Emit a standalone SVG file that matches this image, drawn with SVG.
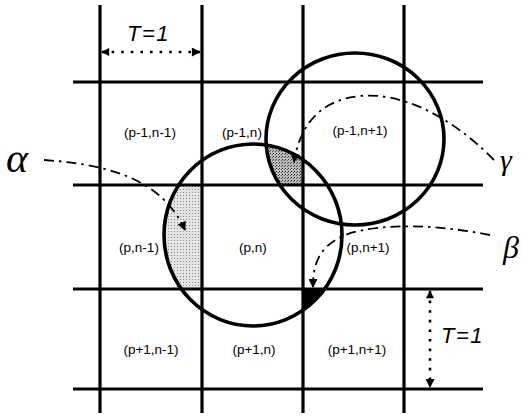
<svg xmlns="http://www.w3.org/2000/svg" width="523" height="417" viewBox="0 0 523 417">
<style>
.grid{stroke:#000;stroke-width:3.2;fill:none}
.circ{stroke:#000;stroke-width:3.6;fill:none}
.lbl{font-family:"Liberation Sans",Arial,sans-serif;font-size:13.5px;fill:#000;text-anchor:middle}
.t1{font-family:"Liberation Sans",Arial,sans-serif;font-size:22px;font-style:italic;letter-spacing:1.5px;fill:#000}
.greek{font-family:"Liberation Serif","Times New Roman",serif;font-style:italic;fill:#000}
.dd{stroke:#000;stroke-width:1.8;fill:none;stroke-dasharray:10,5,2.5,5}
.dot{stroke:#000;stroke-width:2.6;fill:none;stroke-dasharray:2.6,7}
</style>
<defs>
<marker id="ah" viewBox="0 0 10 10" refX="9" refY="5" markerUnits="userSpaceOnUse" markerWidth="11" markerHeight="9" orient="auto">
<path d="M0,0 L10,5 L0,10 z" fill="#000"/>
</marker>
<marker id="ahs" viewBox="0 0 10 10" refX="1" refY="5" markerUnits="userSpaceOnUse" markerWidth="10" markerHeight="8" orient="auto">
<path d="M10,0 L0,5 L10,10 z" fill="#000"/>
</marker>
<pattern id="light" width="3" height="3" patternUnits="userSpaceOnUse">
<rect width="3" height="3" fill="#e4e4e4"/>
<rect width="1" height="1" fill="#888"/>
</pattern>
<pattern id="dark" width="3" height="3" patternUnits="userSpaceOnUse">
<rect width="3" height="3" fill="#bbb"/>
<rect width="1" height="1" fill="#333"/>
<rect x="2" y="1" width="1" height="1" fill="#555"/>
</pattern>
<clipPath id="c1"><ellipse cx="253" cy="235" rx="89" ry="91"/></clipPath>
<clipPath id="c2"><ellipse cx="355" cy="139" rx="89" ry="86"/></clipPath>
</defs>

<g id="regions">
<g id="alpha-region" clip-path="url(#c1)"><rect x="100" y="185" width="102" height="104" fill="url(#light)"/></g>
<g id="gamma-region" clip-path="url(#c1)"><g clip-path="url(#c2)"><rect x="202" y="82" width="101" height="103" fill="url(#dark)"/></g></g>
<g id="beta-region" clip-path="url(#c1)"><rect x="303" y="289" width="101" height="100" fill="#000"/></g>
</g>

<g id="grid">
<line class="grid" x1="73" y1="82" x2="483" y2="82"/>
<line class="grid" x1="73" y1="185" x2="483" y2="185"/>
<line class="grid" x1="73" y1="289" x2="483" y2="289"/>
<line class="grid" x1="73" y1="389" x2="483" y2="389"/>
<line class="grid" x1="100" y1="5" x2="100" y2="413"/>
<line class="grid" x1="202" y1="5" x2="202" y2="413"/>
<line class="grid" x1="303" y1="5" x2="303" y2="413"/>
<line class="grid" x1="404" y1="5" x2="404" y2="413"/>
</g>

<g id="circle-pn"><ellipse class="circ" cx="253" cy="235" rx="89" ry="91"/></g>
<g id="circle-p-1n+1"><ellipse class="circ" cx="355" cy="139" rx="89" ry="86"/></g>

<g id="cells">
<text class="lbl" x="150" y="137">(p-1,n-1)</text>
<text class="lbl" x="242" y="137">(p-1,n)</text>
<text class="lbl" x="360" y="135">(p-1,n+1)</text>
<text class="lbl" x="139" y="252">(p,n-1)</text>
<text class="lbl" x="253" y="252">(p,n)</text>
<text class="lbl" x="368" y="252">(p,n+1)</text>
<text class="lbl" x="151" y="354">(p+1,n-1)</text>
<text class="lbl" x="254" y="354">(p+1,n)</text>
<text class="lbl" x="357" y="354">(p+1,n+1)</text>
</g>

<g id="connectors">
<path class="dd" d="M44,160 C100,164 160,175 185,230" marker-end="url(#ah)"/>
<path class="dd" d="M494,160 C450,115 400,92 360,96 C320,100 300,125 294,162" marker-end="url(#ah)"/>
<path class="dd" d="M490,235 C440,225 380,222 345,235 C320,246 313,262 313,287" marker-end="url(#ah)"/>
<line class="dot" x1="102" y1="52" x2="200" y2="52" marker-start="url(#ahs)" marker-end="url(#ah)"/>
<line class="dot" x1="430" y1="291" x2="430" y2="387" marker-start="url(#ahs)" marker-end="url(#ah)"/>
</g>

<g id="labels">
<text class="t1" x="127" y="41">T=1</text>
<text class="t1" x="441" y="343">T=1</text>
<text class="greek" x="6" y="172" font-size="42">α</text>
<text class="greek" x="500" y="170" font-size="30">γ</text>
<text class="greek" x="503" y="258" font-size="32">β</text>
</g>
</svg>
